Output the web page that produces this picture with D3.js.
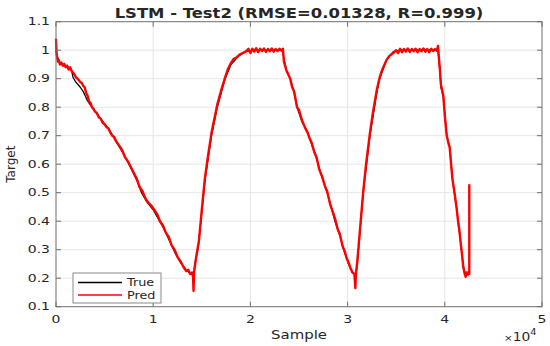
<!DOCTYPE html>
<html>
<head>
<meta charset="utf-8">
<script src="https://cdn.jsdelivr.net/npm/d3@7"></script>
<style>
  html, body { margin: 0; padding: 0; background: #fff; }
  svg { display: block; }
</style>
</head>
<body>
<div id="chart"></div>
<script>
const titleText = 'LSTM - Test2 (RMSE=0.01328, R=0.999)';
const xLabel = 'Sample';
const yLabel = 'Target';
const xTicks = [0, 10000, 20000, 30000, 40000, 50000];
const xTickLabels = ['0', '1', '2', '3', '4', '5'];
const yTicks = [0.1, 0.2, 0.3, 0.4, 0.5, 0.6, 0.7, 0.8, 0.9, 1.0, 1.1];
const yTickLabels = ['0.1', '0.2', '0.3', '0.4', '0.5', '0.6', '0.7', '0.8', '0.9', '1', '1.1'];
const seriesNames = ['True', 'Pred'];

// [sample, value]
const trueSeries = [
  [0, 1.0], [150, 0.975], [400, 0.955], [900, 0.945], [1600, 0.93], [1750, 0.905], [2000, 0.89],
  [2500, 0.87], [2800, 0.855], [3200, 0.825], [3800, 0.795], [4700, 0.755], [5500, 0.72], [6000, 0.69],
  [6800, 0.645], [7500, 0.6], [8300, 0.545], [8800, 0.5], [9300, 0.47], [10000, 0.44], [10500, 0.41],
  [11000, 0.38], [11700, 0.33], [12300, 0.285], [12800, 0.255], [13400, 0.23], [13900, 0.215],
  [14150, 0.21], [14300, 0.25], [14640, 0.31], [15330, 0.545], [16000, 0.70], [16600, 0.80],
  [17400, 0.90], [18000, 0.95], [18800, 0.98], [19500, 0.995], [20500, 1.0], [23300, 1.0],
  [23450, 0.97], [23700, 0.93], [24100, 0.9], [24500, 0.85], [24800, 0.8], [25300, 0.75], [25900, 0.71],
  [26300, 0.67], [26800, 0.62], [27400, 0.55], [27900, 0.5], [28300, 0.45], [28700, 0.4], [29200, 0.35],
  [29600, 0.3], [30100, 0.25], [30500, 0.22], [30800, 0.21], [31000, 0.25], [31600, 0.5], [32300, 0.7],
  [33000, 0.85], [33300, 0.9], [34000, 0.966], [34700, 0.995], [35500, 1.0], [39300, 1.0],
  [39500, 0.93], [39600, 0.87], [39850, 0.837], [40200, 0.70], [40500, 0.66], [40800, 0.545],
  [41200, 0.45], [41600, 0.334], [41900, 0.24], [42150, 0.21], [42500, 0.22]
];

const predSeries = [
  [0, 1.04], [60, 0.99], [120, 0.975], [200, 0.96], [300, 0.965], [400, 0.95], [550, 0.957], [700, 0.945],
  [850, 0.952], [1000, 0.94], [1150, 0.946], [1300, 0.932], [1450, 0.94], [1600, 0.928], [1750, 0.922],
  [1900, 0.915], [2050, 0.905], [2200, 0.9], [2350, 0.895], [2500, 0.888], [2650, 0.885], [2800, 0.875],
  [2950, 0.87], [3100, 0.85], [3250, 0.84], [3400, 0.82], [3550, 0.815], [3700, 0.8], [3850, 0.795],
  [4000, 0.785], [4200, 0.78], [4400, 0.765], [4600, 0.76], [4800, 0.745], [5000, 0.74], [5200, 0.73],
  [5400, 0.725], [5600, 0.71], [5800, 0.70], [6000, 0.695], [6200, 0.68], [6500, 0.665], [6800, 0.65],
  [7100, 0.625], [7400, 0.61], [7700, 0.59], [8000, 0.57], [8300, 0.55], [8600, 0.52], [8900, 0.505],
  [9200, 0.48], [9500, 0.465], [9800, 0.455], [10100, 0.44], [10400, 0.425], [10700, 0.4], [11000, 0.385],
  [11300, 0.36], [11600, 0.345], [11900, 0.315], [12200, 0.3], [12500, 0.275], [12800, 0.26], [13100, 0.24],
  [13400, 0.225], [13600, 0.23], [13800, 0.215], [14000, 0.22], [14100, 0.205], [14150, 0.155], [14200, 0.22],
  [14400, 0.27], [14700, 0.33], [15000, 0.44], [15300, 0.545], [15600, 0.62], [16000, 0.71], [16300, 0.76],
  [16600, 0.81], [17000, 0.86], [17400, 0.905], [17700, 0.935], [18000, 0.955], [18300, 0.97], [18600, 0.975],
  [18900, 0.985], [19200, 0.99], [19500, 0.995], [19800, 1.005], [20000, 0.99], [20200, 1.005], [20400, 0.995],
  [20600, 1.007], [20800, 0.993], [21000, 1.005], [21200, 0.997], [21400, 1.006], [21600, 0.994],
  [21800, 1.004], [22000, 0.996], [22200, 1.006], [22400, 0.995], [22600, 1.004], [22800, 0.997],
  [23000, 1.005], [23200, 0.998], [23350, 1.005], [23450, 0.96], [23700, 0.93], [23900, 0.915], [24100, 0.9],
  [24300, 0.87], [24500, 0.855], [24800, 0.8], [25000, 0.79], [25300, 0.755], [25600, 0.73], [25900, 0.71],
  [26100, 0.69], [26300, 0.675], [26600, 0.64], [26800, 0.625], [27100, 0.58], [27400, 0.555], [27700, 0.52],
  [27900, 0.505], [28200, 0.46], [28500, 0.43], [28700, 0.41], [29000, 0.37], [29200, 0.355], [29500, 0.31],
  [29700, 0.295], [29900, 0.27], [30100, 0.255], [30300, 0.235], [30500, 0.22], [30700, 0.215], [30800, 0.165],
  [30850, 0.21], [31000, 0.26], [31300, 0.38], [31600, 0.5], [31900, 0.6], [32300, 0.71], [32600, 0.78],
  [33000, 0.86], [33300, 0.905], [33600, 0.935], [34000, 0.965], [34300, 0.98], [34700, 0.99], [35000, 1.0],
  [35200, 0.99], [35400, 1.005], [35600, 0.993], [35800, 1.004], [36000, 0.995], [36200, 1.006], [36400, 0.994],
  [36600, 1.004], [36800, 0.996], [37000, 1.005], [37200, 0.993], [37400, 1.004], [37600, 0.996],
  [37800, 1.006], [38000, 0.995], [38200, 1.004], [38400, 0.993], [38600, 1.005], [38800, 0.997],
  [39000, 1.004], [39200, 0.998], [39300, 1.015], [39400, 0.97], [39500, 0.93], [39600, 0.88], [39850, 0.84],
  [40000, 0.77], [40200, 0.70], [40400, 0.67], [40500, 0.66], [40700, 0.58], [40800, 0.545], [41000, 0.5],
  [41200, 0.45], [41400, 0.39], [41500, 0.37], [41600, 0.334], [41750, 0.29], [41900, 0.24], [42050, 0.215],
  [42150, 0.205], [42250, 0.22], [42350, 0.212], [42450, 0.222], [42520, 0.215], [42520, 0.53]
];

const W = 550, H = 346;
const margin = { left: 56, right: 8, top: 21.7, bottom: 39.3 };
const AXIS = '#6e6e6e', TEXT = '#262626', GRID = '#e6e6e6';
const FONT = '"DejaVu Sans", sans-serif';

const svg = d3.select('#chart').append('svg').attr('width', W).attr('height', H);

const x = d3.scaleLinear().domain([0, 50000]).range([margin.left, W - margin.right]);
const y = d3.scaleLinear().domain([0.1, 1.1]).range([H - margin.bottom, margin.top]);
const [x0, x1] = x.range(), [y0, y1] = y.range();

function label(g, px, py, str, opts) {
  const sx = opts.sx || 1;
  return g.append('text')
    .attr('transform', `translate(${px},${py}) scale(${sx},1)`)
    .attr('text-anchor', opts.anchor || 'start')
    .attr('font-family', FONT)
    .attr('font-size', opts.size + 'px')
    .attr('font-weight', opts.bold ? 'bold' : 'normal')
    .attr('fill', TEXT)
    .text(str);
}

// grid
const grid = svg.append('g');
grid.selectAll('.gx').data(xTicks.slice(1, -1)).join('line')
  .attr('x1', d => x(d)).attr('x2', d => x(d)).attr('y1', y0).attr('y2', y1)
  .attr('stroke', GRID).attr('stroke-width', 1);
grid.selectAll('.gy').data(yTicks.slice(1, -1)).join('line')
  .attr('y1', d => y(d)).attr('y2', d => y(d)).attr('x1', x0).attr('x2', x1)
  .attr('stroke', GRID).attr('stroke-width', 1);

// lines
const line = d3.line().x(d => x(d[0])).y(d => y(d[1]));
svg.append('path').datum(trueSeries).attr('d', line)
  .attr('fill', 'none').attr('stroke', '#000').attr('stroke-width', 1.3).attr('stroke-linejoin', 'round');
svg.append('path').datum(predSeries).attr('d', line)
  .attr('fill', 'none').attr('stroke', '#ff0000').attr('stroke-width', 2.4).attr('stroke-linejoin', 'round');

// box and ticks
const axes = svg.append('g');
axes.append('rect').attr('x', x0).attr('y', y1).attr('width', x1 - x0).attr('height', y0 - y1)
  .attr('fill', 'none').attr('stroke', AXIS).attr('stroke-width', 1);
const tl = 5;
xTicks.forEach(t => {
  axes.append('line').attr('x1', x(t)).attr('x2', x(t)).attr('y1', y0).attr('y2', y0 - tl).attr('stroke', AXIS);
  axes.append('line').attr('x1', x(t)).attr('x2', x(t)).attr('y1', y1).attr('y2', y1 + tl).attr('stroke', AXIS);
});
yTicks.forEach(t => {
  axes.append('line').attr('y1', y(t)).attr('y2', y(t)).attr('x1', x0).attr('x2', x0 + tl).attr('stroke', AXIS);
  axes.append('line').attr('y1', y(t)).attr('y2', y(t)).attr('x1', x1).attr('x2', x1 - tl).attr('stroke', AXIS);
});

// tick labels
xTicks.forEach((t, i) => label(svg, x(t), y0 + 16.5, xTickLabels[i], { size: 10, sx: 1.4, anchor: 'middle' }));
yTicks.forEach((t, i) => label(svg, x0 - 6, y(t) + 3.7, yTickLabels[i], { size: 10, sx: 1.4, anchor: 'end' }));

// exponent
const ex = label(svg, 504, 340.5, '', { size: 12, sx: 1.15 });
ex.append('tspan').attr('font-size', '9px').text('×');
ex.append('tspan').text('10');
ex.append('tspan').attr('font-size', '8.5px').attr('dy', -5.5).text('4');

// axis titles
label(svg, (x0 + x1) / 2, 338.5, xLabel, { size: 11.5, sx: 1.3, anchor: 'middle' });
svg.append('text')
  .attr('transform', `translate(15,${(y0 + y1) / 2}) rotate(-90)`)
  .attr('text-anchor', 'middle').attr('font-family', FONT).attr('font-size', '12px')
  .attr('fill', TEXT).text(yLabel);

// title
label(svg, (x0 + x1) / 2, 18.3, titleText, { size: 14.4, sx: 1.14, bold: true, anchor: 'middle' });

// legend
const lg = svg.append('g');
lg.append('rect').attr('x', 73).attr('y', 273).attr('width', 88).attr('height', 30)
  .attr('fill', '#fff').attr('stroke', '#8a8a8a').attr('stroke-width', 1);
const legendColors = ['#000', '#ff0000'];
seriesNames.forEach((n, i) => {
  const ly = 282.5 + i * 12.5;
  lg.append('line').attr('x1', 78).attr('x2', 122).attr('y1', ly).attr('y2', ly)
    .attr('stroke', legendColors[i]).attr('stroke-width', 1.3);
  label(lg, 127, ly + 3.8, n, { size: 10.5, sx: 1.22 });
});
</script>
</body>
</html>
